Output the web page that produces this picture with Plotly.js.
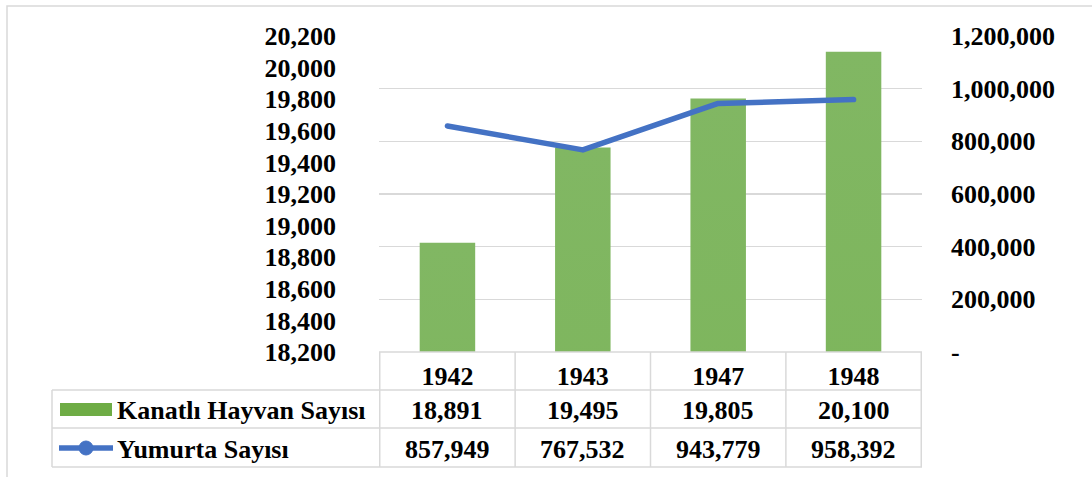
<!DOCTYPE html>
<html>
<head>
<meta charset="utf-8">
<script src="https://cdn.plot.ly/plotly-3.0.1.min.js"></script>
<style>html,body{margin:0;padding:0;background:#fff;}#chart{width:1092px;height:477px;}</style>
</head>
<body>
<div id="chart"></div>
<script>
// ---- data ----
const years = ['1942', '1943', '1947', '1948'];
const kanatliHayvan = [18891, 19495, 19805, 20100];
const yumurta = [857949, 767532, 943779, 958392];
const seriesNames = ['Kanatlı Hayvan Sayısı', 'Yumurta Sayısı'];
const leftTicks = [18200, 18400, 18600, 18800, 19000, 19200, 19400, 19600, 19800, 20000, 20200];
const rightTicks = [0, 200000, 400000, 600000, 800000, 1000000, 1200000];
const rightTickText = ['-', '200,000', '400,000', '600,000', '800,000', '1,000,000', '1,200,000'];

// ---- layout helpers (pixel -> paper) ----
const W = 1092, H = 477;
const L = 379, R = 922, T = 36, B = 352;
const px = X => (X - L) / (R - L);
const py = Y => (B - Y) / (B - T);

const FONT = {family: 'Liberation Serif', size: 26, color: '#000', weight: 'bold'};
const GRID = '#d9d9d9';
const fmt = v => v.toLocaleString('en-US');

const traces = [
  {
    type: 'bar', x: years, y: kanatliHayvan, name: seriesNames[0],
    marker: {color: '#6eac45'}, width: 0.41, yaxis: 'y', hoverinfo: 'x+y'
  },
  {
    type: 'scatter', mode: 'lines', x: years, y: yumurta, name: seriesNames[1],
    line: {color: '#4472c4', width: 5.5}, yaxis: 'y2'
  }
];

const shapes = [];
const annotations = [];
const line = (x0, y0, x1, y1) => shapes.push({type: 'line', xref: 'paper', yref: 'paper',
  x0: x0, y0: py(y0), x1: x1, y1: py(y1), line: {color: GRID, width: 1.5}, layer: 'above'});

// outer chart border
shapes.push({type: 'rect', xref: 'paper', yref: 'paper', x0: px(7), x1: px(1110), y0: py(6), y1: py(500),
  line: {color: '#d9d9d9', width: 1.5}, fillcolor: 'rgba(0,0,0,0)', layer: 'below'});

// data table grid
line(px(L), 352, px(R), 352);
line(px(52), 390, px(R), 390);
line(px(52), 428, px(R), 428);
line(px(52), 467, px(R), 467);
line(px(52), 390, px(52), 467);
for (let i = 0; i <= years.length; i++) {
  shapes.push({type: 'line', xref: 'x', yref: 'paper', x0: i - 0.5, x1: i - 0.5, y0: py(352), y1: py(467),
    line: {color: GRID, width: 1.5}, layer: 'above'});
}

// table values
years.forEach((yr, i) => {
  annotations.push({xref: 'x', yref: 'paper', x: i, y: py(410), text: fmt(kanatliHayvan[i]), showarrow: false,
    font: FONT, xanchor: 'center', yanchor: 'middle'});
  annotations.push({xref: 'x', yref: 'paper', x: i, y: py(449), text: fmt(yumurta[i]), showarrow: false,
    font: FONT, xanchor: 'center', yanchor: 'middle'});
});

// legend keys in table
shapes.push({type: 'rect', xref: 'paper', yref: 'paper', x0: px(60), x1: px(112), y0: py(403), y1: py(416),
  line: {width: 0}, fillcolor: '#6eac45', layer: 'above'});
shapes.push({type: 'line', xref: 'paper', yref: 'paper', x0: px(59), x1: px(113), y0: py(448), y1: py(448),
  line: {color: '#4472c4', width: 5.5}, layer: 'above'});
shapes.push({type: 'circle', xref: 'paper', yref: 'paper', x0: px(79), x1: px(93), y0: py(441), y1: py(455),
  line: {color: '#4472c4', width: 1}, fillcolor: '#4472c4', layer: 'above'});
annotations.push({xref: 'paper', yref: 'paper', x: px(115), y: py(410), text: seriesNames[0], showarrow: false,
  font: FONT, xanchor: 'left', yanchor: 'middle'});
annotations.push({xref: 'paper', yref: 'paper', x: px(115), y: py(449), text: seriesNames[1], showarrow: false,
  font: FONT, xanchor: 'left', yanchor: 'middle'});

const layout = {
  width: W, height: H,
  margin: {l: L, r: W - R, t: T, b: H - B, pad: 0},
  paper_bgcolor: '#fff', plot_bgcolor: 'rgba(0,0,0,0)',
  showlegend: false,
  font: FONT,
  xaxis: {
    type: 'category', categoryarray: years, showgrid: false, zeroline: false, showline: false,
    ticks: '', tickfont: FONT, ticklabelstandoff: 6, fixedrange: true
  },
  yaxis: {
    range: [18200, 20200], tickvals: leftTicks, tickformat: ',d', showgrid: false, zeroline: false,
    showline: false, ticks: '', tickfont: FONT, ticklabelstandoff: 42, fixedrange: true
  },
  yaxis2: {
    range: [0, 1200000], overlaying: 'y', side: 'right', tickvals: rightTicks, ticktext: rightTickText,
    showgrid: true, gridcolor: GRID, gridwidth: 1.5, zeroline: false, showline: false, ticks: '',
    tickfont: FONT, ticklabelstandoff: 28, fixedrange: true
  },
  shapes: shapes,
  annotations: annotations
};

Plotly.newPlot('chart', traces, layout, {staticPlot: true, displayModeBar: false}).then(gd => {
  // Excel-like vertical gradient on the bars and rounded line caps
  const NS = 'http://www.w3.org/2000/svg';
  const svg = gd.querySelector('svg.main-svg');
  let defs = svg.querySelector('defs');
  if (!defs) { defs = document.createElementNS(NS, 'defs'); svg.insertBefore(defs, svg.firstChild); }
  const g = document.createElementNS(NS, 'linearGradient');
  g.setAttribute('id', 'barGrad'); g.setAttribute('x1', '0'); g.setAttribute('y1', '0');
  g.setAttribute('x2', '0'); g.setAttribute('y2', '1');
  [['0', '#81b763'], ['0.5', '#70b043'], ['1', '#5f9f32']].forEach(([o, c]) => {
    const s = document.createElementNS(NS, 'stop'); s.setAttribute('offset', o); s.setAttribute('stop-color', c); g.appendChild(s);
  });
  defs.appendChild(g);
  gd.querySelectorAll('.bars .point path').forEach(p => { p.style.fill = 'url(#barGrad)'; });
  gd.querySelectorAll('.scatterlayer .js-line').forEach(p => { p.style.strokeLinecap = 'round'; p.style.strokeLinejoin = 'round'; });
});
</script>
</body>
</html>
